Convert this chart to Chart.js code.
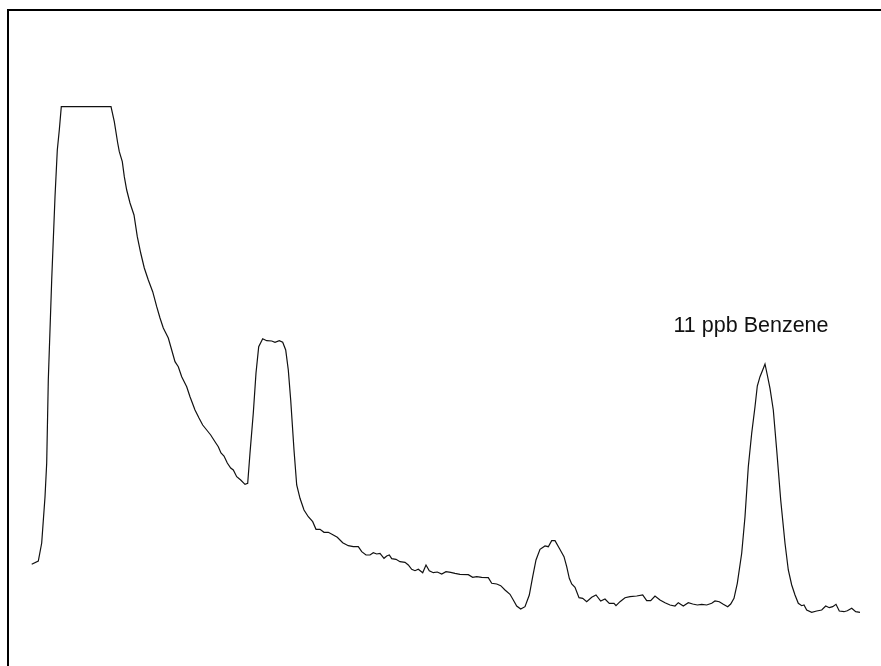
<!DOCTYPE html>
<html>
<head>
<meta charset="utf-8">
<script src="https://cdn.jsdelivr.net/npm/chart.js@4/dist/chart.umd.min.js"></script>
<style>
  html, body { margin: 0; padding: 0; background: #ffffff; }
  #wrap { width: 881px; height: 666px; }
</style>
</head>
<body>
<div id="wrap"><canvas id="chromatogram" width="881" height="666"></canvas></div>
<script>
// Retention time (s) and detector response (counts) of the trace
const retentionTime = [
  23.7, 30.3, 33.7, 37, 38.7, 40.3, 43.7, 47, 49.3, 51.3, 53.3, 103,
  106.3, 109.7, 111.3, 114.3, 116.3, 118.7, 122, 126, 129.3, 132.7, 136.3, 140.3,
  144.7, 148.7, 152, 155.3, 160.3, 163.7, 167, 170.3, 173.7, 178.7, 182, 187,
  191, 194.7, 198.7, 202.7, 207, 210.3, 213, 216, 219.3, 222.7, 225.3, 228.7,
  232.7, 237, 239.7, 242, 245.3, 248, 250.7, 254.7, 258.7, 263.7, 267, 271.3,
  274.7, 277.7, 280.3, 282.7, 286, 288.7, 292, 296, 300.3, 304.7, 308, 312,
  316, 320.3, 325.3, 329.3, 334.7, 340.3, 345.3, 350.3, 353.7, 358, 362, 365.3,
  368.7, 372, 376, 378.7, 381.3, 383.7, 388, 392, 397, 400.3, 403.7, 407,
  410.3, 414.7, 418, 421.3, 425.3, 429.3, 433.7, 438, 442.7, 447, 452, 460.3,
  464.7, 468.7, 473.7, 480.3, 483.7, 488.7, 492.7, 497, 502, 505.3, 508.7, 512.7,
  517, 521.3, 524.7, 528, 532, 537, 540.3, 543.7, 547, 551.3, 556, 558.7,
  561.3, 563.7, 567, 571, 574.7, 578.7, 583.7, 588, 592.7, 597, 601.3, 606,
  608, 612, 617, 622, 628.7, 634.7, 638.7, 642.7, 647, 652, 657, 662,
  667, 670.3, 675.3, 680.3, 684.7, 689.3, 693.7, 698.7, 703.7, 707, 711.3, 715.3,
  719.7, 722.7, 726, 729.3, 733.7, 737, 740.3, 743.7, 747, 749.3, 752, 754.7,
  757, 759.3, 762, 765.3, 768.7, 772.7, 777, 780.3, 783.7, 787, 790.3, 793.7,
  796, 798.7, 803.7, 808.7, 813.7, 817.7, 821.3, 824.7, 828, 831.3, 836, 839.3,
  843.7, 847.7, 852
];

const detectorSignal = [
  101.7, 105, 123, 169, 203, 286, 386, 469, 516, 536, 559.3, 559.3,
  544.3, 523, 514.3, 504.3, 489.3, 476, 463, 451, 429.3, 413, 398, 386,
  374.3, 359.3, 348, 338, 328, 316, 304.3, 299.3, 289.3, 279.3, 269.3, 256,
  248, 241, 236, 231, 224.3, 219.3, 213, 210, 203, 198, 196, 189.3,
  186, 181.7, 182.7, 213, 253, 293, 319.3, 327.3, 325.3, 325, 323.7, 325.3,
  323.7, 316, 296, 266, 216, 181, 167.7, 156, 149.3, 144.3, 136.7, 136.7,
  133.7, 133.7, 131, 128.7, 123.3, 120.3, 119.3, 119.3, 114.3, 111, 111, 113.3,
  112, 112.7, 107.7, 110, 111, 107.3, 106.7, 104.3, 103.7, 101, 96.7, 95.3,
  96.7, 93.3, 101, 95.3, 93.3, 94, 92, 94.3, 93.7, 92.7, 91.7, 91.3,
  88.7, 89.3, 88.7, 88.3, 82.7, 82, 80.3, 76, 71.7, 66, 60, 57,
  59.3, 71, 89.3, 106, 116.7, 120, 119.3, 125.3, 125.3, 117.7, 109.3, 99.3,
  87.7, 82, 78.7, 68.3, 67.7, 64.3, 68.7, 71, 65, 67, 62.7, 62.7,
  60.3, 64.3, 68.3, 69.3, 70, 71, 65.3, 65.3, 70, 66, 63.3, 61,
  60, 63.3, 60, 63.3, 62, 61, 61.7, 61, 62.7, 65, 64.3, 61.7,
  59.3, 62, 67.7, 82.7, 112.7, 149.3, 199.3, 232.7, 259.3, 280, 289.3, 296,
  302, 291, 277.7, 256, 216, 166, 122.7, 96, 81, 71, 62.7, 60.3,
  61, 56, 53.7, 55, 56, 60, 58.3, 59.3, 61.7, 55, 54.3, 55.3,
  57.7, 54.3, 53.7
];

// Peak annotation
const peakLabel = '11 ppb Benzene';
const peakLabelTime = 743;
const peakLabelSignal = 334;

const axisRange = { tMin: 0, tMax: 873, sMin: 0, sMax: 657 };

const tracePoints = retentionTime.map((t, i) => ({ x: t, y: detectorSignal[i] }));

// Frame along the left and top of the plot area
const framePlugin = {
  id: 'frame',
  afterDraw(chart) {
    const { ctx, chartArea } = chart;
    ctx.save();
    ctx.strokeStyle = '#000000';
    ctx.lineWidth = 2;
    ctx.beginPath();
    ctx.moveTo(chartArea.left, chart.height + 2);
    ctx.lineTo(chartArea.left, chartArea.top + 1);
    ctx.lineTo(chart.width + 2, chartArea.top + 1);
    ctx.stroke();
    ctx.restore();
  }
};

// Text label placed in data space next to the peak
const peakLabelPlugin = {
  id: 'peakLabel',
  afterDatasetsDraw(chart) {
    const { ctx, scales } = chart;
    const px = scales.x.getPixelForValue(peakLabelTime);
    const py = scales.y.getPixelForValue(peakLabelSignal);
    ctx.save();
    ctx.fillStyle = '#111111';
    ctx.font = '21.5px "Liberation Sans", Arial, sans-serif';
    ctx.textAlign = 'center';
    ctx.textBaseline = 'alphabetic';
    ctx.fillText(peakLabel, px, py);
    ctx.restore();
  }
};

new Chart(document.getElementById('chromatogram'), {
  type: 'line',
  data: {
    datasets: [{
      data: tracePoints,
      borderColor: '#111111',
      borderWidth: 1.2,
      pointRadius: 0,
      tension: 0,
      fill: false
    }]
  },
  options: {
    responsive: false,
    animation: false,
    layout: { padding: { left: 8, top: 9, right: 0, bottom: 0 } },
    plugins: { legend: { display: false }, tooltip: { enabled: false } },
    scales: {
      x: { type: 'linear', display: false, min: axisRange.tMin, max: axisRange.tMax },
      y: { type: 'linear', display: false, min: axisRange.sMin, max: axisRange.sMax }
    }
  },
  plugins: [framePlugin, peakLabelPlugin]
});
</script>
</body>
</html>
